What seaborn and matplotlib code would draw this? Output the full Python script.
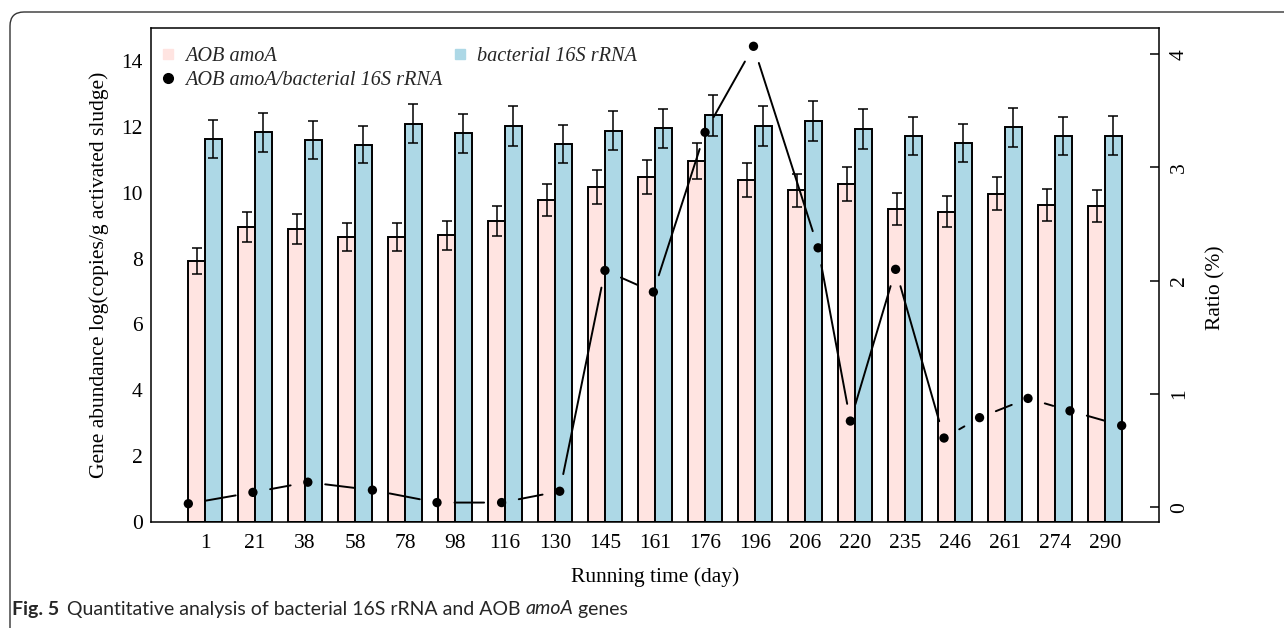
import numpy as np
import pandas as pd
import seaborn as sns
import matplotlib.pyplot as plt
from matplotlib.lines import Line2D
from matplotlib.patches import FancyBboxPatch
from matplotlib.transforms import IdentityTransform
from matplotlib import font_manager

# data
days = [1, 21, 38, 58, 78, 98, 116, 130, 145, 161, 176, 196, 206, 220, 235, 246, 261, 274, 290]
amoa = [7.93, 8.95, 8.90, 8.65, 8.65, 8.70, 9.15, 9.77, 10.17, 10.47, 10.95, 10.38, 10.07, 10.27,
        9.51, 9.42, 9.97, 9.63, 9.60]
amoa_err = [0.40, 0.45, 0.45, 0.43, 0.43, 0.44, 0.46, 0.49, 0.51, 0.52, 0.55, 0.52, 0.50, 0.51,
            0.48, 0.47, 0.50, 0.48, 0.48]
rrna = [11.62, 11.83, 11.60, 11.46, 12.10, 11.80, 12.03, 11.47, 11.88, 11.95, 12.35, 12.02, 12.18,
        11.93, 11.72, 11.52, 11.98, 11.72, 11.73]
rrna_err = [0.58, 0.59, 0.58, 0.57, 0.60, 0.59, 0.60, 0.57, 0.59, 0.60, 0.62, 0.60, 0.61, 0.60,
            0.59, 0.58, 0.60, 0.59, 0.59]
ratio = [0.03, 0.13, 0.22, 0.15, 0.04, 0.04, 0.14, 2.09, 1.90, 3.31, 4.07, 2.29, 0.76, 2.10,
         0.61, 0.79, 0.96, 0.85, 0.72]
genes = ['AOB amoA', 'bacterial 16S rRNA']
ratio_label = 'AOB amoA/bacterial 16S rRNA'

pink = '#FFE4E1'
blue = '#ADD8E6'
W, H = 1284, 628

sns.set_theme(style='white')
plt.rcParams['font.family'] = ['Liberation Serif', 'DejaVu Serif']

# caption font: narrow sans if we have one
names = {f.name for f in font_manager.fontManager.ttflist}
cap_font = 'Liberation Sans Narrow' if 'Liberation Sans Narrow' in names else 'Lato'
cap_size = 15.5 if cap_font == 'Liberation Sans Narrow' else 14

labels = [str(d) for d in days]
n = len(days)
df = pd.DataFrame({
    'day': labels * 2,
    'value': amoa + rrna,
    'gene': [genes[0]] * n + [genes[1]] * n,
})

fig = plt.figure(figsize=(W / 100, H / 100), dpi=100)
ax = fig.add_axes([151 / W, 1 - 522 / H, 1008 / W, 494 / H])

sns.barplot(data=df, x='day', y='value', hue='gene', order=labels, hue_order=genes,
            palette=[pink, blue], saturation=1, width=2 / 3, errorbar=None, edgecolor='black',
            linewidth=1.4, legend=False, ax=ax)

# error bars at the bar centres
for cont, vals, errs in zip(ax.containers, [amoa, rrna], [amoa_err, rrna_err]):
    xs = [p.get_x() + p.get_width() / 2 for p in cont]
    ax.errorbar(xs, vals, yerr=errs, fmt='none', ecolor='black', elinewidth=1.1,
                capsize=3.4, capthick=1.1, zorder=4)

# R-style limits (4% padding)
lo, hi = -1 / 3, n - 1 + 1 / 3
pad = 0.04 * (hi - lo)
ax.set_xlim(lo - pad, hi + pad)
ax.set_ylim(0, 15)
ax.set_yticks(range(0, 15, 2))
ax.tick_params(axis='y', direction='in', length=6.5, width=1.1, labelsize=15.5, pad=6, colors='black')
ax.tick_params(axis='x', length=0, labelsize=15.5, pad=9, colors='black')
for s in ax.spines.values():
    s.set_visible(True)
    s.set_color('black')
    s.set_linewidth(1.1)
ax.set_xlabel('Running time (day)', fontsize=15.5, labelpad=10, color='black')
ax.set_ylabel('Gene abundance log(copies/g activated sludge)', fontsize=15.5, labelpad=9, color='black')

# ratio on its own numeric day axis
ax2 = fig.add_axes(ax.get_position(), facecolor='none')
dpad = 0.04 * (max(days) - min(days))
ax2.set_xlim(min(days) - dpad, max(days) + dpad)
rpad = 0.04 * (max(ratio) - min(ratio))
ax2.set_ylim(min(ratio) - rpad, max(ratio) + rpad)
for s in ax2.spines.values():
    s.set_visible(False)
ax2.xaxis.set_visible(False)
ax2.yaxis.tick_right()
ax2.yaxis.set_label_position('right')
ax2.set_yticks(range(0, 5))
ax2.tick_params(axis='y', direction='in', length=6.5, width=1.1, labelsize=15.5, pad=8,
                labelrotation=90, colors='black')
for t in ax2.get_yticklabels():
    t.set_va('center')
ax2.set_ylabel('Ratio (%)', fontsize=15.5, color='black')
ax2.yaxis.set_label_coords(1.047, 0.475)

sns.scatterplot(x=days, y=ratio, ax=ax2, color='black', s=45, edgecolor='none', zorder=6)
# type="b" look: segments stop short of the points
for i in range(n - 1):
    ax2.annotate('', xy=(days[i + 1], ratio[i + 1]), xytext=(days[i], ratio[i]),
                 arrowprops=dict(arrowstyle='-', shrinkA=12.6, shrinkB=12.6, lw=1.4, color='black'),
                 zorder=5)

handles = [
    Line2D([], [], marker='s', ls='', color=pink, markersize=7),
    Line2D([], [], marker='o', ls='', color='black', markersize=7),
    Line2D([], [], marker='s', ls='', color=blue, markersize=7),
]
ax2.legend(handles, [genes[0], ratio_label, genes[1]], ncol=2, loc='upper left', frameon=False,
           prop={'style': 'italic', 'size': 14.6}, handlelength=0.8, handletextpad=0.45,
           columnspacing=0.45, borderaxespad=0, labelspacing=0.25, borderpad=0.3,
           bbox_to_anchor=(0.003, 0.974))

# rounded frame around figure + caption
frame = FancyBboxPatch((10, -80), W + 200, H - 12 + 80, boxstyle='round,pad=0,rounding_size=14',
                       transform=IdentityTransform(), facecolor='none', edgecolor='#333333', lw=1.0)
fig.add_artist(frame)

cap_y = 1 - 609 / H
fig.canvas.draw()
r = fig.canvas.get_renderer()
fig.text(12 / W, cap_y, 'Fig. 5', family=cap_font, weight='bold', size=cap_size, va='center')
x = 67 / W
pieces = [('Quantitative analysis of bacterial 16S rRNA and AOB ', 'normal'),
          ('amoA', 'italic'), (' genes', 'normal')]
for txt, st in pieces:
    t = fig.text(x, cap_y, txt, family=cap_font, style=st, size=cap_size, va='center')
    bb = t.get_window_extent(r)
    x = bb.x1 / W

fig.savefig('out.png', dpi=100)
